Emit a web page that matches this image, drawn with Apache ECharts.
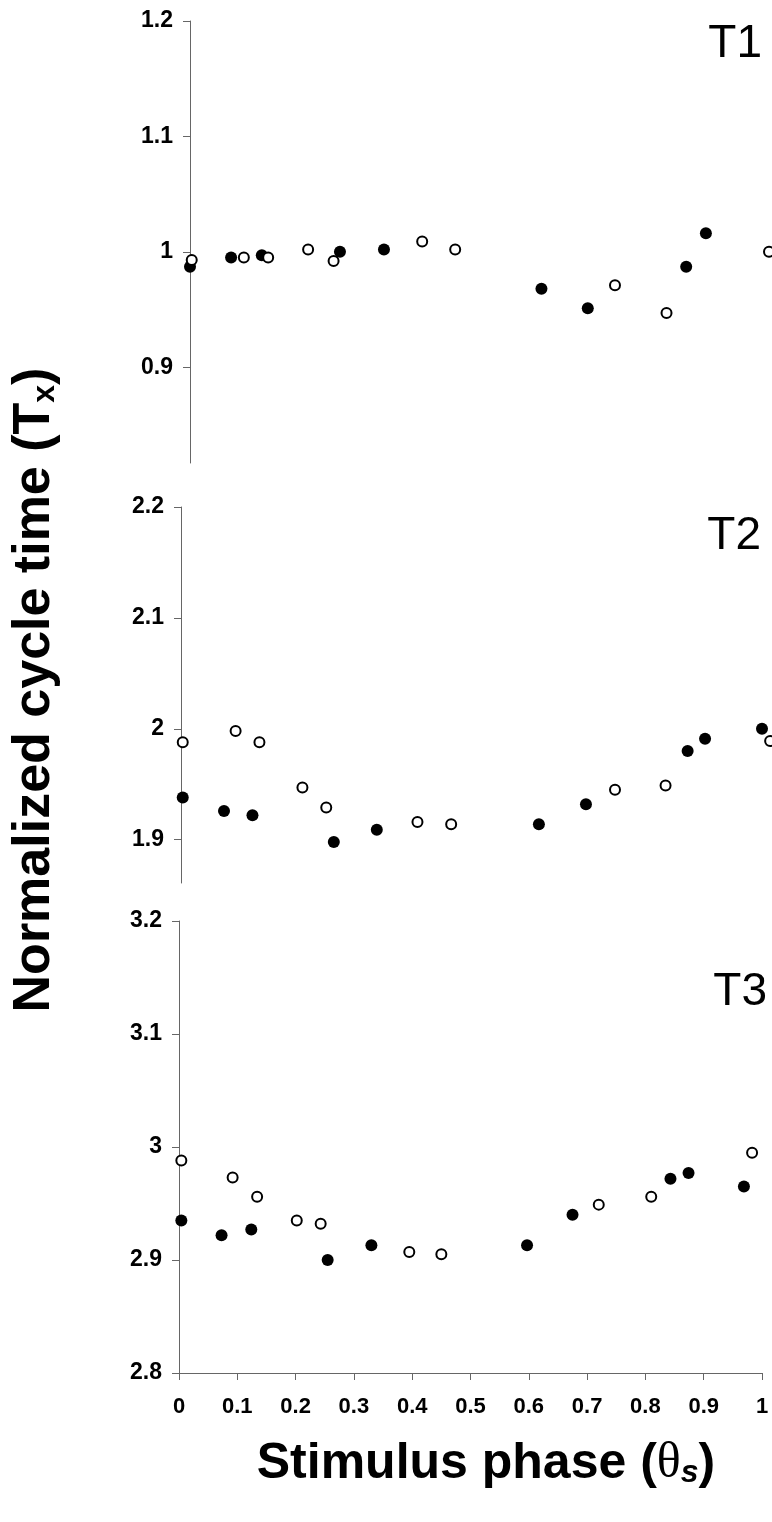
<!DOCTYPE html>
<html>
<head>
<meta charset="utf-8">
<script src="https://cdn.jsdelivr.net/npm/echarts@6/dist/echarts.min.js"></script>
<style>
  html, body { margin: 0; padding: 0; background: #fff; }
  #chart { width: 772px; height: 1522px; }
</style>
</head>
<body>
<div id="chart"></div>
<script>
// values: stimulus phase (x) vs normalized cycle time (y)
var t1FilledX = [0.0, 0.071, 0.124, 0.259, 0.335, 0.607, 0.687, 0.857, 0.891];
var t1FilledY = [0.987, 0.995, 0.997, 1.000, 1.002, 0.968, 0.951, 0.987, 1.016];
var t1OpenX = [0.003, 0.093, 0.135, 0.204, 0.248, 0.401, 0.458, 0.734, 0.823, 1.0];
var t1OpenY = [0.993, 0.995, 0.995, 1.002, 0.992, 1.009, 1.002, 0.971, 0.947, 1.000];

var t2FilledX = [0.003, 0.074, 0.123, 0.263, 0.337, 0.616, 0.697, 0.872, 0.902, 1.0];
var t2FilledY = [1.938, 1.926, 1.922, 1.898, 1.909, 1.914, 1.932, 1.980, 1.991, 2.000];
var t2OpenX = [0.003, 0.094, 0.135, 0.209, 0.25, 0.407, 0.465, 0.747, 0.834, 1.014];
var t2OpenY = [1.988, 1.998, 1.988, 1.947, 1.929, 1.916, 1.914, 1.945, 1.949, 1.989];

var t3FilledX = [0.004, 0.073, 0.124, 0.255, 0.330, 0.597, 0.675, 0.843, 0.874, 0.969];
var t3FilledY = [2.935, 2.922, 2.927, 2.900, 2.913, 2.913, 2.940, 2.972, 2.977, 2.965];
var t3OpenX = [0.004, 0.092, 0.134, 0.202, 0.243, 0.395, 0.450, 0.720, 0.810, 0.983];
var t3OpenY = [2.988, 2.973, 2.956, 2.935, 2.932, 2.907, 2.905, 2.949, 2.956, 2.995];

var t1Ticks = [0.9, 1, 1.1, 1.2];
var t2Ticks = [1.9, 2, 2.1, 2.2];
var panelNames = ['T1', 'T2', 'T3'];

var FONT = "'Liberation Sans', Arial, Helvetica, sans-serif";
var AXIS_COLOR = '#666';

function zip(xs, ys) {
  return xs.map(function (x, i) { return [x, ys[i]]; });
}

function yAxisFor(idx, min, max, ticks) {
  var axis = {
    type: 'value',
    gridIndex: idx,
    min: min,
    max: max,
    axisLine: { show: true, lineStyle: { color: AXIS_COLOR, width: 1 } },
    axisTick: { show: true, length: 7, lineStyle: { color: AXIS_COLOR } },
    splitLine: { show: false },
    axisLabel: {
      color: '#000', fontFamily: FONT, fontWeight: 'bold', fontSize: 23, margin: 17
    }
  };
  if (ticks) {
    axis.axisTick.customValues = ticks;
    axis.axisLabel.customValues = ticks;
  } else {
    axis.interval = 0.1;
  }
  return axis;
}

function filled(idx, data) {
  return {
    type: 'scatter', xAxisIndex: idx, yAxisIndex: idx, clip: false,
    symbol: 'circle', symbolSize: 12,
    itemStyle: { color: '#000', opacity: 1 },
    data: data
  };
}

function open(idx, data) {
  return {
    type: 'scatter', xAxisIndex: idx, yAxisIndex: idx, clip: false,
    symbol: 'circle', symbolSize: 10,
    itemStyle: { color: '#fff', borderColor: '#000', borderWidth: 2, opacity: 1 },
    data: data
  };
}

var chart = echarts.init(document.getElementById('chart'), null, { renderer: 'canvas' });

var option = {
  backgroundColor: '#fff',
  animation: false,
  grid: [
    { left: 190, right: 3, top: 21, height: 442 },
    { left: 181, right: 10, top: 507, height: 376 },
    { left: 179, right: 10, top: 921, height: 452 }
  ],
  xAxis: [
    { type: 'value', gridIndex: 0, min: 0, max: 1, show: false },
    { type: 'value', gridIndex: 1, min: 0, max: 1, show: false },
    {
      type: 'value', gridIndex: 2, min: 0, max: 1, interval: 0.1,
      axisLine: { show: true, lineStyle: { color: AXIS_COLOR, width: 1 } },
      axisTick: { show: true, length: 7, lineStyle: { color: AXIS_COLOR } },
      splitLine: { show: false },
      axisLabel: {
        color: '#000', fontFamily: FONT, fontWeight: 'bold', fontSize: 22, margin: 23
      }
    }
  ],
  yAxis: [
    yAxisFor(0, 0.817, 1.2, t1Ticks),
    yAxisFor(1, 1.861, 2.2, t2Ticks),
    yAxisFor(2, 2.8, 3.2, null)
  ],
  series: [
    filled(0, zip(t1FilledX, t1FilledY)),
    open(0, zip(t1OpenX, t1OpenY)),
    filled(1, zip(t2FilledX, t2FilledY)),
    open(1, zip(t2OpenX, t2OpenY)),
    filled(2, zip(t3FilledX, t3FilledY)),
    open(2, zip(t3OpenX, t3OpenY))
  ],
  graphic: [
    {
      type: 'text', x: 762, y: 44,
      style: { text: panelNames[0], font: 'normal 46px ' + FONT, fill: '#000', textAlign: 'right', textVerticalAlign: 'middle' }
    },
    {
      type: 'text', x: 761, y: 536,
      style: { text: panelNames[1], font: 'normal 46px ' + FONT, fill: '#000', textAlign: 'right', textVerticalAlign: 'middle' }
    },
    {
      type: 'text', x: 767, y: 992,
      style: { text: panelNames[2], font: 'normal 46px ' + FONT, fill: '#000', textAlign: 'right', textVerticalAlign: 'middle' }
    },
    {
      // y axis title, reads bottom to top
      type: 'text', x: 35, y: 690, rotation: Math.PI / 2,
      style: {
        text: '{m|Normalized cycle time (T}{s|x}{m|)}',
        textAlign: 'center', textVerticalAlign: 'middle', fill: '#000',
        rich: {
          m: { fontFamily: FONT, fontWeight: 'bold', fontSize: 52, lineHeight: 52, verticalAlign: 'top' },
          s: { fontFamily: FONT, fontWeight: 'bold', fontSize: 32, lineHeight: 32, padding: [26, 0, 0, 0], verticalAlign: 'bottom' }
        }
      }
    },
    {
      type: 'text', x: 486, y: 1464,
      style: {
        text: '{m|Stimulus phase (}{th|θ}{s|s}{m|)}',
        textAlign: 'center', textVerticalAlign: 'middle', fill: '#000',
        rich: {
          m: { fontFamily: FONT, fontWeight: 'bold', fontSize: 50, lineHeight: 50, verticalAlign: 'top' },
          th: { fontFamily: "'Liberation Serif', 'DejaVu Serif', serif", fontWeight: 'normal', fontSize: 50, lineHeight: 50, verticalAlign: 'top' },
          s: { fontFamily: FONT, fontWeight: 'bold', fontStyle: 'italic', fontSize: 32, lineHeight: 32, padding: [24, 0, 0, 0], verticalAlign: 'bottom' }
        }
      }
    }
  ]
};

chart.setOption(option);
</script>
</body>
</html>
